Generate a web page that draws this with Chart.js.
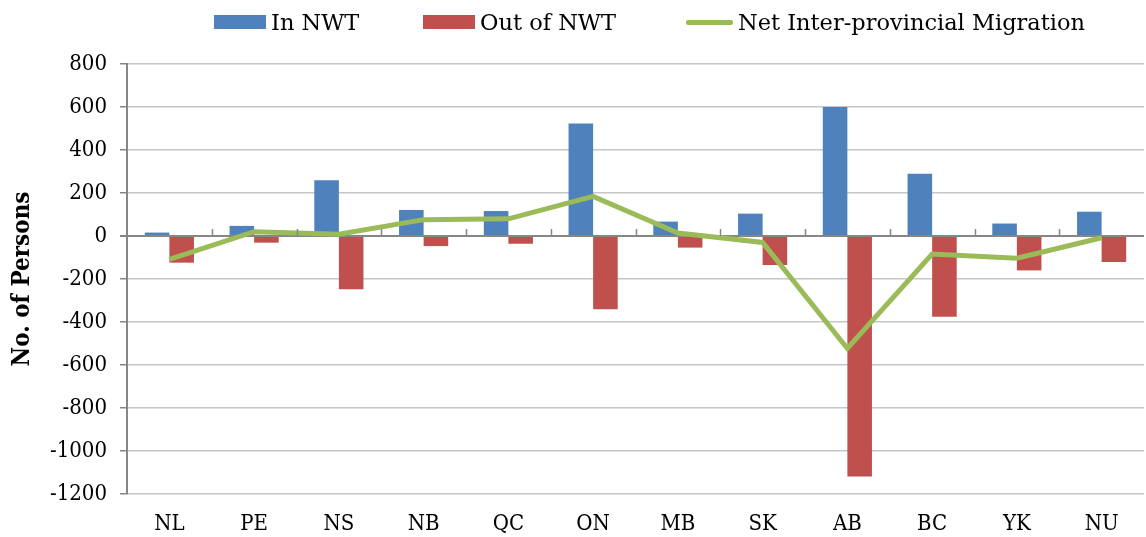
<!DOCTYPE html>
<html>
<head>
<meta charset="utf-8">
<script src="https://cdn.jsdelivr.net/npm/chart.js@4/dist/chart.umd.min.js"></script>
<style>
  html, body { margin: 0; padding: 0; background: #fff; }
  #wrap { position: relative; width: 1146px; height: 537px; }
  #legenda {
    position: absolute; top: 7px; left: 0; width: 1146px; height: 30px;
    font-family: 'DejaVu Serif', serif; font-size: 22.5px; color: #000;
  }
  #legenda .item { position: absolute; top: 0; height: 30px; display: flex; align-items: center; white-space: nowrap; }
  #legenda .caixa { width: 52px; height: 14px; margin-right: 5px; }
  #legenda .linha { width: 47px; height: 5px; margin-right: 5px; border-radius: 2px; }
</style>
</head>
<body>
<div id="wrap">
  <canvas id="grafico"></canvas>
  <div id="legenda"></div>
</div>
<script>
// Dados
const provincias = ['NL', 'PE', 'NS', 'NB', 'QC', 'ON', 'MB', 'SK', 'AB', 'BC', 'YK', 'NU'];
const entradas = [16, 47, 259, 121, 116, 523, 67, 104, 600, 290, 58, 113];
const saidas = [-124, -31, -248, -47, -36, -341, -54, -135, -1119, -375, -160, -121];
const saldo = [-109, 20, 8, 76, 80, 184, 14, -30, -523, -84, -103, -8];
const ticksY = [800, 600, 400, 200, 0, -200, -400, -600, -800, -1000, -1200];

const fonte = "'DejaVu Serif Condensed', 'DejaVu Serif', serif";

// marquinhas do eixo X na linha do zero
const marcasEixo = {
  id: 'marcasEixo',
  afterDatasetsDraw(chart) {
    const { ctx, scales } = chart;
    const x = scales.x, y = scales.y;
    const y0 = y.getPixelForValue(0);
    const passo = x.getPixelForTick(1) - x.getPixelForTick(0);
    ctx.save();
    ctx.strokeStyle = '#868686';
    ctx.lineWidth = 1.5;
    for (let i = 1; i < provincias.length; i++) {
      const px = Math.round(x.getPixelForTick(i) - passo / 2) + 0.5;
      ctx.beginPath();
      ctx.moveTo(px, y0);
      ctx.lineTo(px, y0 - 7);
      ctx.stroke();
    }
    ctx.restore();
  }
};

const grafico = new Chart(document.getElementById('grafico'), {
  type: 'bar',
  data: {
    labels: provincias,
    datasets: [
      {
        label: 'In NWT',
        data: entradas,
        backgroundColor: '#4F81BD',
        borderWidth: 0,
        order: 2
      },
      {
        label: 'Out of NWT',
        data: saidas,
        backgroundColor: '#C0504D',
        borderWidth: 0,
        order: 2
      },
      {
        type: 'line',
        label: 'Net Inter-provincial Migration',
        data: saldo,
        borderColor: '#9BBB59',
        backgroundColor: '#9BBB59',
        borderWidth: 5,
        pointRadius: 0,
        tension: 0,
        order: 1
      }
    ]
  },
  options: {
    responsive: true,
    maintainAspectRatio: false,
    animation: false,
    layout: { padding: { left: 1, right: 2, top: 64, bottom: 0 } },
    datasets: {
      bar: { categoryPercentage: 0.58, barPercentage: 1 }
    },
    plugins: {
      tooltip: { enabled: false },
      legend: { display: false }
    },
    scales: {
      x: {
        afterFit(scale) { scale.height = 43; },
        grid: { display: false, drawTicks: false },
        border: { display: false },
        ticks: { color: '#000', padding: 17, font: { family: fonte, size: 22 } }
      },
      y: {
        min: -1200,
        max: 800,
        afterFit(scale) { scale.width = 126; },
        afterBuildTicks(axis) {
          axis.ticks = ticksY.map(v => ({ value: v }));
        },
        grid: {
          color: ctx => ctx.tick && ctx.tick.value === 0 ? '#868686' : '#c6c6c6',
          lineWidth: ctx => ctx.tick && ctx.tick.value === 0 ? 2 : 1.5,
          tickColor: '#868686',
          tickLength: 7
        },
        border: { display: true, color: '#868686', width: 2 },
        ticks: {
          color: '#000',
          padding: 13,
          font: { family: fonte, size: 22 },
          callback: v => String(v)
        },
        title: {
          display: true,
          text: 'No. of Persons',
          color: '#000',
          padding: { top: 7, bottom: 4 },
          font: { family: fonte, size: 24, weight: 'bold' }
        }
      }
    }
  },
  plugins: [marcasEixo]
});

// legenda em HTML, montada a partir dos datasets
const posicoesLegenda = [214, 423, 686];
const legenda = document.getElementById('legenda');
grafico.data.datasets.forEach((ds, i) => {
  const item = document.createElement('div');
  item.className = 'item';
  item.style.left = posicoesLegenda[i] + 'px';
  const simbolo = document.createElement('span');
  simbolo.className = ds.type === 'line' ? 'linha' : 'caixa';
  simbolo.style.background = ds.type === 'line' ? ds.borderColor : ds.backgroundColor;
  const texto = document.createElement('span');
  texto.textContent = ds.label;
  item.appendChild(simbolo);
  item.appendChild(texto);
  legenda.appendChild(item);
});
</script>
</body>
</html>
